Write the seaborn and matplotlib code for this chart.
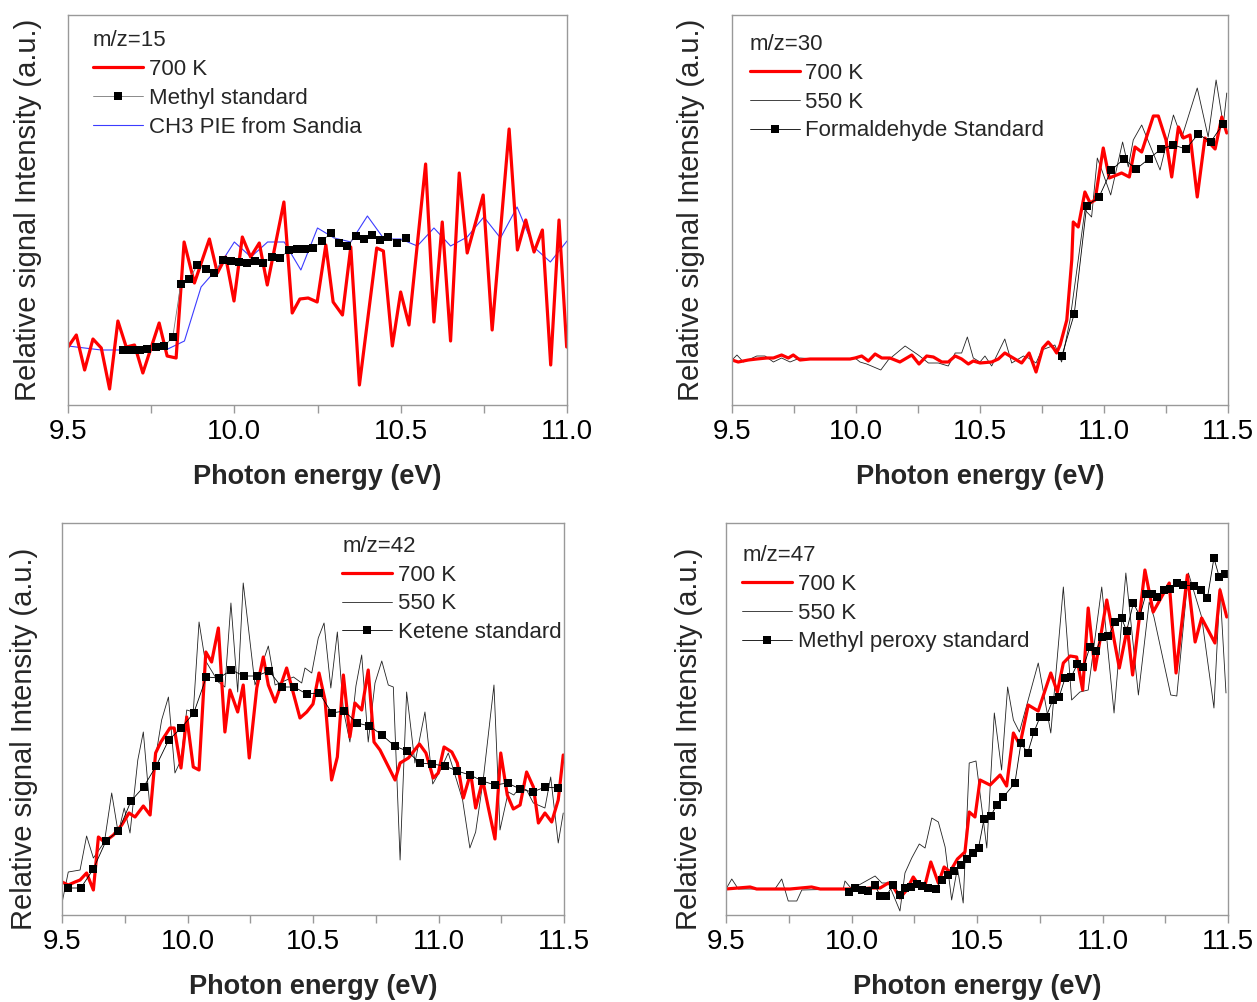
import numpy as np
import pandas as pd
import matplotlib
matplotlib.use("Agg")
import matplotlib.pyplot as plt
import seaborn as sns
from matplotlib.ticker import MultipleLocator, FormatStrFormatter

# ---------------- data (photon energy in eV, signal in a.u.) ----------------
# m/z = 15
e15_700 = [9.500, 9.525, 9.550, 9.575, 9.600, 9.625, 9.650, 9.675, 9.700, 9.725, 9.774, 9.798, 9.825, 9.849, 9.880,
           9.925, 9.949, 9.974, 9.999, 10.024, 10.049, 10.075, 10.099, 10.149, 10.174, 10.197, 10.222, 10.249, 10.275,
           10.297, 10.325, 10.350, 10.376, 10.428, 10.448, 10.475, 10.500, 10.525, 10.575, 10.600, 10.625, 10.650,
           10.676, 10.700, 10.748, 10.775, 10.826, 10.851, 10.876, 10.901, 10.926, 10.951, 10.976, 10.999]
v15_700 = [58, 70, 35, 66, 57, 16, 84, 58, 60, 32, 82, 49, 47, 163, 122, 166, 132, 148, 104, 168, 148, 162, 120, 203,
           92, 106, 107, 103, 160, 103, 90, 158, 20, 157, 154, 59, 113, 80, 241, 83, 183, 64, 232, 152, 210, 75, 276,
           155, 185, 153, 175, 40, 185, 58]
e15_std = [9.666, 9.686, 9.700, 9.716, 9.738, 9.765, 9.790, 9.815, 9.839, 9.865, 9.889, 9.915, 9.939, 9.965, 9.989,
           10.015, 10.039, 10.062, 10.087, 10.112, 10.137, 10.165, 10.187, 10.212, 10.237, 10.264, 10.290, 10.315,
           10.338, 10.365, 10.390, 10.415, 10.438, 10.463, 10.490, 10.515]
v15_std = [55, 55, 55, 55, 56, 58, 59, 68, 121, 126, 140, 136, 132, 145, 144, 143, 142, 144, 142, 148, 147, 155, 156,
           156, 157, 164, 172, 162, 159, 169, 166, 170, 165, 168, 162, 167]
e15_ch3 = [9.50, 9.55, 9.60, 9.65, 9.70, 9.75, 9.80, 9.85, 9.90, 9.95, 10.00, 10.05, 10.10, 10.15, 10.20, 10.25,
           10.30, 10.35, 10.40, 10.45, 10.50, 10.55, 10.60, 10.65, 10.70, 10.75, 10.80, 10.85, 10.90, 10.95, 11.00]
v15_ch3 = [59, 57, 55, 55, 55, 55, 56, 64, 118, 137, 163, 148, 163, 163, 135, 177, 167, 163, 189, 166, 166, 159, 177,
           159, 168, 188, 167, 198, 158, 143, 164]

# m/z = 30
e30_700 = [9.500, 9.525, 9.566, 9.600, 9.640, 9.667, 9.700, 9.727, 9.747, 9.774, 9.815, 9.855, 9.895, 9.935, 9.976,
           9.996, 10.023, 10.050, 10.077, 10.104, 10.137, 10.177, 10.225, 10.254, 10.285, 10.312, 10.346, 10.372,
           10.400, 10.426, 10.453, 10.473, 10.500, 10.547, 10.574, 10.600, 10.634, 10.668, 10.698, 10.726, 10.753,
           10.775, 10.796, 10.809, 10.823, 10.850, 10.870, 10.876, 10.896, 10.923, 10.944, 10.964, 10.997, 11.021,
           11.071, 11.102, 11.125, 11.152, 11.199, 11.219, 11.250, 11.273, 11.300, 11.320, 11.347, 11.376, 11.407,
           11.448, 11.475, 11.495]
v30_700 = [45, 43, 45, 46, 47, 47, 50, 47, 50, 45, 46, 46, 46, 46, 46, 47, 49, 44, 51, 47, 47, 43, 50, 41, 49, 48, 43,
           43, 49, 46, 41, 44, 42, 43, 46, 52, 47, 42, 52, 33, 57, 63, 57, 52, 60, 85, 145, 183, 178, 213, 202, 205,
           257, 227, 232, 228, 258, 253, 289, 289, 265, 228, 278, 267, 270, 208, 267, 256, 288, 272]
e30_550 = [9.500, 9.520, 9.546, 9.600, 9.633, 9.667, 9.700, 9.734, 9.774, 9.835, 9.895, 9.956, 9.996, 10.016, 10.043,
           10.100, 10.130, 10.198, 10.251, 10.292, 10.332, 10.372, 10.400, 10.426, 10.449, 10.473, 10.500, 10.520,
           10.547, 10.600, 10.628, 10.675, 10.695, 10.726, 10.749, 10.802, 10.829, 10.863, 10.896, 10.923, 10.950,
           10.973, 10.991, 11.027, 11.075, 11.098, 11.118, 11.152, 11.226, 11.280, 11.313, 11.376, 11.420, 11.452,
           11.481, 11.495]
v30_550 = [45, 50, 43, 49, 49, 43, 47, 43, 47, 46, 46, 46, 47, 43, 41, 35, 45, 59, 50, 42, 42, 39, 52, 52, 68, 47, 43,
           49, 39, 66, 42, 49, 47, 42, 55, 60, 43, 85, 145, 195, 188, 247, 235, 210, 263, 238, 265, 280, 235, 290, 267,
           317, 268, 325, 280, 312]
e30_std = [10.83, 10.88, 10.93, 10.98, 11.03, 11.08, 11.13, 11.18, 11.23, 11.28, 11.33, 11.38, 11.43, 11.48]
v30_std = [49, 91, 199, 208, 235, 246, 236, 246, 256, 260, 256, 271, 263, 281]

# m/z = 42
e42_700 = [9.500, 9.525, 9.552, 9.572, 9.598, 9.625, 9.645, 9.669, 9.705, 9.738, 9.767, 9.791, 9.824, 9.851, 9.873,
           9.894, 9.930, 9.947, 9.974, 9.997, 10.023, 10.046, 10.073, 10.096, 10.123, 10.149, 10.169, 10.200, 10.222,
           10.246, 10.276, 10.302, 10.322, 10.349, 10.395, 10.448, 10.475, 10.500, 10.524, 10.548, 10.574, 10.597,
           10.621, 10.647, 10.667, 10.694, 10.720, 10.743, 10.767, 10.827, 10.847, 10.880, 10.924, 10.950, 10.979,
           10.999, 11.022, 11.053, 11.075, 11.099, 11.128, 11.148, 11.176, 11.198, 11.225, 11.248, 11.274, 11.298,
           11.325, 11.351, 11.378, 11.398, 11.424, 11.451, 11.477, 11.497]
v42_700 = [33, 30, 33, 35, 42, 25, 78, 73, 80, 90, 102, 98, 109, 100, 162, 173, 187, 187, 147, 198, 148, 145, 263, 253,
           287, 183, 225, 203, 230, 157, 227, 258, 230, 213, 247, 197, 203, 211, 242, 215, 135, 158, 240, 178, 212,
           205, 245, 173, 165, 135, 152, 157, 171, 162, 137, 142, 168, 163, 152, 117, 142, 107, 135, 108, 76, 162,
           120, 106, 110, 143, 128, 92, 102, 93, 115, 160]
e42_550 = [9.500, 9.525, 9.572, 9.598, 9.625, 9.669, 9.698, 9.724, 9.748, 9.771, 9.802, 9.824, 9.851, 9.873, 9.897,
           9.924, 9.950, 9.974, 9.997, 10.023, 10.046, 10.070, 10.123, 10.149, 10.173, 10.200, 10.222, 10.269, 10.322,
           10.349, 10.422, 10.455, 10.468, 10.495, 10.521, 10.544, 10.571, 10.597, 10.621, 10.647, 10.671, 10.694,
           10.720, 10.747, 10.774, 10.800, 10.820, 10.847, 10.873, 10.906, 10.946, 10.977, 11.006, 11.039, 11.066,
           11.096, 11.125, 11.148, 11.178, 11.221, 11.245, 11.278, 11.300, 11.325, 11.351, 11.378, 11.424, 11.447,
           11.477, 11.497]
v42_550 = [12, 43, 45, 79, 57, 73, 122, 82, 107, 82, 155, 183, 105, 158, 195, 218, 142, 155, 205, 203, 293, 255, 233,
           228, 312, 223, 332, 230, 269, 230, 238, 232, 247, 242, 277, 292, 227, 283, 205, 173, 229, 260, 173, 232,
           254, 230, 228, 55, 223, 152, 203, 131, 144, 162, 140, 115, 67, 83, 135, 230, 85, 123, 120, 128, 125, 112,
           107, 138, 72, 102]
e42_std = [9.525, 9.575, 9.625, 9.675, 9.725, 9.775, 9.825, 9.875, 9.925, 9.975, 10.025, 10.075, 10.125, 10.175,
           10.225, 10.275, 10.325, 10.375, 10.425, 10.475, 10.525, 10.575, 10.625, 10.675, 10.725, 10.775, 10.825,
           10.875, 10.925, 10.975, 11.025, 11.075, 11.125, 11.175, 11.225, 11.275, 11.325, 11.375, 11.425, 11.475]
v42_std = [27, 27, 46, 74, 84, 114, 128, 149, 175, 187, 202, 238, 237, 245, 239, 239, 244, 228, 228, 221, 222, 202,
           204, 192, 189, 180, 169, 164, 152, 151, 149, 144, 140, 134, 130, 132, 126, 123, 128, 127]

# m/z = 47
e47_700 = [9.500, 9.596, 9.622, 9.755, 9.841, 9.875, 9.981, 10.034, 10.074, 10.114, 10.147, 10.167, 10.193, 10.220,
           10.246, 10.273, 10.293, 10.316, 10.346, 10.369, 10.392, 10.422, 10.452, 10.469, 10.492, 10.512, 10.552,
           10.592, 10.618, 10.645, 10.671, 10.704, 10.744, 10.794, 10.820, 10.844, 10.871, 10.897, 10.921, 10.943,
           10.970, 11.017, 11.067, 11.099, 11.120, 11.169, 11.202, 11.222, 11.266, 11.293, 11.338, 11.369, 11.395,
           11.448, 11.468, 11.495]
v47_700 = [26, 28, 26, 26, 28, 26, 26, 26, 27, 27, 32, 28, 17, 25, 38, 28, 30, 53, 32, 48, 43, 56, 63, 103, 98, 135,
           130, 140, 129, 182, 170, 210, 204, 242, 223, 252, 259, 258, 225, 307, 245, 315, 247, 287, 240, 345, 303,
           312, 332, 242, 340, 273, 297, 272, 325, 298]
e47_550 = [9.500, 9.523, 9.549, 9.695, 9.722, 9.748, 9.782, 9.802, 9.967, 9.974, 10.001, 10.094, 10.121, 10.147,
           10.193, 10.213, 10.240, 10.270, 10.293, 10.320, 10.346, 10.373, 10.399, 10.422, 10.445, 10.469, 10.496,
           10.539, 10.569, 10.598, 10.622, 10.645, 10.669, 10.744, 10.794, 10.844, 10.877, 10.910, 10.943, 10.997,
           11.046, 11.093, 11.143, 11.186, 11.205, 11.272, 11.296, 11.342, 11.395, 11.444, 11.468, 11.492]
v47_550 = [26, 36, 26, 26, 36, 14, 14, 25, 26, 34, 26, 39, 32, 32, 4, 42, 57, 71, 67, 97, 93, 68, 15, 47, 12, 152,
           154, 67, 202, 145, 228, 195, 183, 252, 182, 328, 215, 223, 225, 328, 202, 342, 220, 313, 298, 220, 219,
           342, 298, 207, 327, 222]
e47_std = [9.991, 10.014, 10.041, 10.067, 10.094, 10.114, 10.137, 10.167, 10.193, 10.213, 10.236, 10.260, 10.282,
           10.306, 10.335, 10.359, 10.386, 10.410, 10.435, 10.459, 10.483, 10.506, 10.528, 10.555, 10.578, 10.605,
           10.651, 10.675, 10.702, 10.727, 10.751, 10.775, 10.802, 10.827, 10.851, 10.875, 10.900, 10.924, 10.950,
           10.974, 10.997, 11.023, 11.050, 11.076, 11.096, 11.123, 11.149, 11.173, 11.196, 11.218, 11.245, 11.269,
           11.296, 11.320, 11.366, 11.391, 11.418, 11.444, 11.465, 11.488]
v47_std = [23, 27, 25, 24, 30, 19, 19, 30, 20, 27, 28, 31, 29, 27, 26, 35, 40, 44, 50, 56, 62, 67, 96, 99, 110, 118,
           132, 172, 162, 183, 198, 198, 215, 218, 237, 238, 251, 248, 268, 264, 278, 279, 293, 297, 284, 312, 299,
           321, 321, 318, 325, 326, 332, 330, 329, 325, 317, 357, 338, 341]

# ---------------- styling ----------------
sns.set_style("white")
plt.rcParams["font.family"] = ["Liberation Sans", "DejaVu Sans"]

STYLES = {
    "red": dict(color="#ff0000", linewidth=2.3),
    "thin": dict(color="#222222", linewidth=0.6),
    "blue": dict(color="#3c3cff", linewidth=0.8),
    "std": dict(color="#000000", linewidth=0.6, marker="s", markersize=5.4,
                markeredgecolor="black", markerfacecolor="black", markeredgewidth=0),
    "stdgray": dict(color="#777777", linewidth=0.6, marker="s", markersize=5.4,
                    markeredgecolor="black", markerfacecolor="black", markeredgewidth=0),
}

fig = plt.figure(figsize=(12.57, 10.02), dpi=100)
W, H = 1257, 1002


def make_ax(left, right, top, bottom):
    return fig.add_axes([left / W, 1 - bottom / H, (right - left) / W, (bottom - top) / H])


panels = [
    dict(box=(68, 567, 15, 405), xlim=(9.5, 11.0), ylim=(0, 390), title="m/z=15",
         series=[("blue", e15_ch3, v15_ch3, "CH3 PIE from Sandia"),
                 ("red", e15_700, v15_700, "700 K"),
                 ("stdgray", e15_std, v15_std, "Methyl standard")],
         order=["700 K", "Methyl standard", "CH3 PIE from Sandia"],
         leg=(0.05, 0.961), ylab=(-0.052, 0.5)),
    dict(box=(732, 1228, 15, 405), xlim=(9.5, 11.5), ylim=(0, 390), title="m/z=30",
         series=[("thin", e30_550, v30_550, "550 K"),
                 ("red", e30_700, v30_700, "700 K"),
                 ("std", e30_std, v30_std, "Formaldehyde Standard")],
         order=["700 K", "550 K", "Formaldehyde Standard"],
         leg=(0.036, 0.951), ylab=(-0.054, 0.5)),
    dict(box=(62, 564, 523, 915), xlim=(9.5, 11.5), ylim=(0, 392), title="m/z=42",
         series=[("thin", e42_550, v42_550, "550 K"),
                 ("red", e42_700, v42_700, "700 K"),
                 ("std", e42_std, v42_std, "Ketene standard")],
         order=["700 K", "550 K", "Ketene standard"],
         leg=(0.558, 0.967), ylab=(-0.048, 0.45)),
    dict(box=(726, 1228, 523, 915), xlim=(9.5, 11.5), ylim=(0, 392), title="m/z=47",
         series=[("thin", e47_550, v47_550, "550 K"),
                 ("red", e47_700, v47_700, "700 K"),
                 ("std", e47_std, v47_std, "Methyl peroxy standard")],
         order=["700 K", "550 K", "Methyl peroxy standard"],
         leg=(0.032, 0.944), ylab=(-0.046, 0.45)),
]

for p in panels:
    ax = make_ax(*p["box"])
    handles = {}
    for kind, xs, ys, lab in p["series"]:
        df = pd.DataFrame({"E": xs, "I": ys})
        sns.lineplot(data=df, x="E", y="I", ax=ax, sort=False, estimator=None,
                     label=lab, legend=False, **STYLES[kind])
        handles[lab] = ax.lines[-1]
    ax.set_xlim(*p["xlim"])
    ax.set_ylim(*p["ylim"])
    ax.set_yticks([])
    ax.xaxis.set_major_locator(MultipleLocator(0.5))
    ax.xaxis.set_minor_locator(MultipleLocator(0.25))
    ax.xaxis.set_major_formatter(FormatStrFormatter("%.1f"))
    ax.tick_params(axis="x", which="both", bottom=True, direction="out", length=6, width=1,
                   color="#999999", labelsize=20, pad=4, labelcolor="black")
    for s in ax.spines.values():
        s.set_color("#999999")
        s.set_linewidth(1.0)
        s.set_visible(True)
    ax.set_xlabel("Photon energy (eV)", fontsize=19.5, fontweight="bold", labelpad=14)
    ax.set_ylabel("Relative signal Intensity (a.u.)", fontsize=21)
    ax.yaxis.set_label_coords(*p["ylab"])
    hl = [handles[k] for k in p["order"]]
    leg = ax.legend(handles=hl, labels=p["order"], title=p["title"], loc="upper left",
                    bbox_to_anchor=p["leg"], frameon=False, fontsize=16, title_fontsize=16,
                    handlelength=2.25, handletextpad=0.25, labelspacing=0.35, borderpad=0,
                    borderaxespad=0, alignment="left", numpoints=1)
    ax.set_facecolor("white")

fig.savefig("out.png", dpi=100, facecolor="white")
